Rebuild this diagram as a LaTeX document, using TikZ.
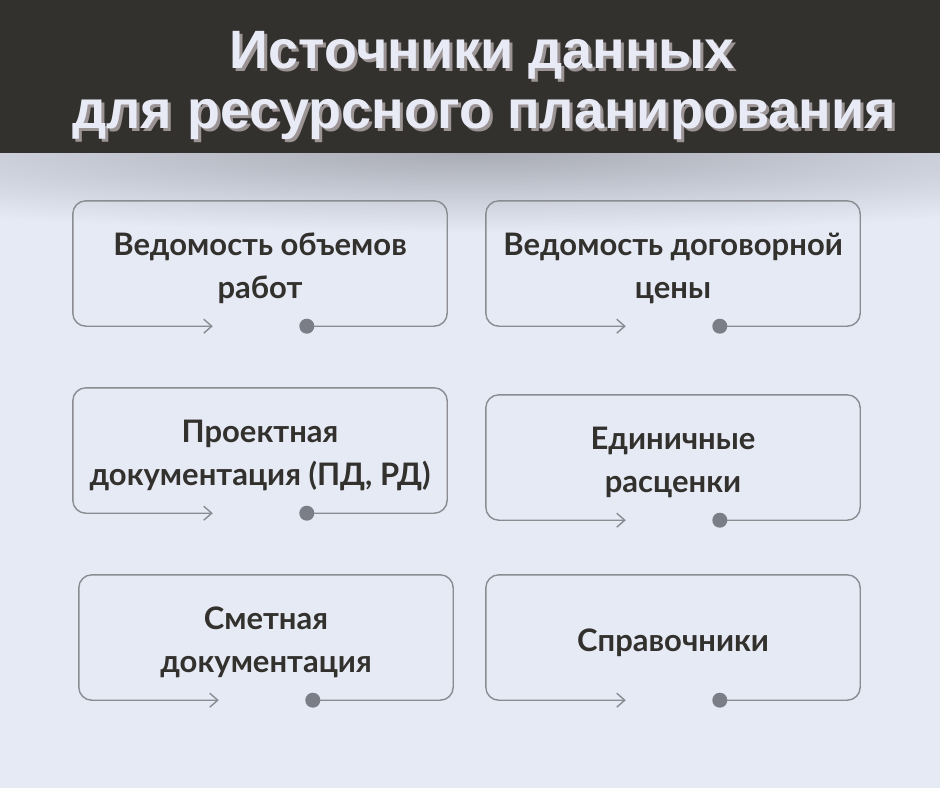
\documentclass[tikz,border=0pt]{standalone}
\usepackage{fontspec}
\setmainfont{Lato}
\newfontfamily\titlefont{Liberation Sans}
\usetikzlibrary{arrows.meta, calc}

\definecolor{bgcol}{HTML}{E6EAF5}
\definecolor{headcol}{HTML}{33312D}
\definecolor{shadowcol}{HTML}{A9ACB5}
\definecolor{titlecol}{HTML}{E8EBF6}
\definecolor{titleshade}{HTML}{9B9394}
\definecolor{framecol}{HTML}{8A8C92}
\definecolor{textcol}{HTML}{33312D}
\definecolor{dotcol}{HTML}{7B7E86}

\begin{document}
\begin{tikzpicture}[
    x=1pt, y=-1pt,
    srcbox/.style={rectangle, minimum width=374pt, minimum height=125pt, inner sep=0pt, align=center, text=textcol,
        font=\fontsize{31}{43}\selectfont\bfseries},
    frame/.style={rounded corners=13pt, draw=framecol, line width=1.4pt, arrows={Straight Barb[length=8pt, width=14pt]-}},
    titletext/.style={anchor=base, text=titlecol, font=\titlefont\bfseries\fontsize{54}{60}\selectfont},
    titleshadow/.style={titletext, text=titleshade}
]
    \useasboundingbox (0,0) rectangle (940,788);
    \fill[bgcol] (0,0) rectangle (940,788);

    % shadow under the header
    \begin{scope}
        \clip (0,153) rectangle (940,260);
        \shade[inner color=shadowcol, outer color=bgcol] (470,153) ellipse (820pt and 80pt);
    \end{scope}
    \fill[headcol] (0,0) rectangle (940,153);

    \node[titleshadow] (T1s) at (485,71) {Источники данных};
    \node[titleshadow] (T2s) at (487,131) {для ресурсного планирования};
    \node[titletext]   (T1)  at (482,68) {Источники данных};
    \node[titletext]   (T2)  at (484,128) {для ресурсного планирования};

    % text sits 5pt below the middle of its frame
    \node[srcbox] (VOR) at (260,268.5) {Ведомость объемов\\работ};
    \node[srcbox] (VDC) at (673,268.5) {Ведомость договорной\\цены};
    \node[srcbox] (PD)  at (260,455.5) {Проектная\\документация (ПД, РД)};
    \node[srcbox] (ER)  at (673,462.5) {Единичные\\расценки};
    \node[srcbox] (SD)  at (266,642.5) {Сметная\\документация};
    \node[srcbox] (SPR) at (673,642.5) {Справочники};

    \foreach \b in {VOR, VDC, PD, ER, SD, SPR}{
        \coordinate (\b-nw)  at ($(\b.north west)+(0,-5)$);
        \coordinate (\b-se)  at ($(\b.south east)+(0,-5)$);
        \coordinate (\b-in)  at ($(\b.south west)+(140,-5)$);
        \coordinate (\b-out) at ($(\b.south west)+(234,-5)$);
        \draw[frame] (\b-in) -| (\b-nw) -| (\b-se) -- (\b-out);
        \fill[dotcol] (\b-out) circle (7.5pt);
    }
\end{tikzpicture}
\end{document}
